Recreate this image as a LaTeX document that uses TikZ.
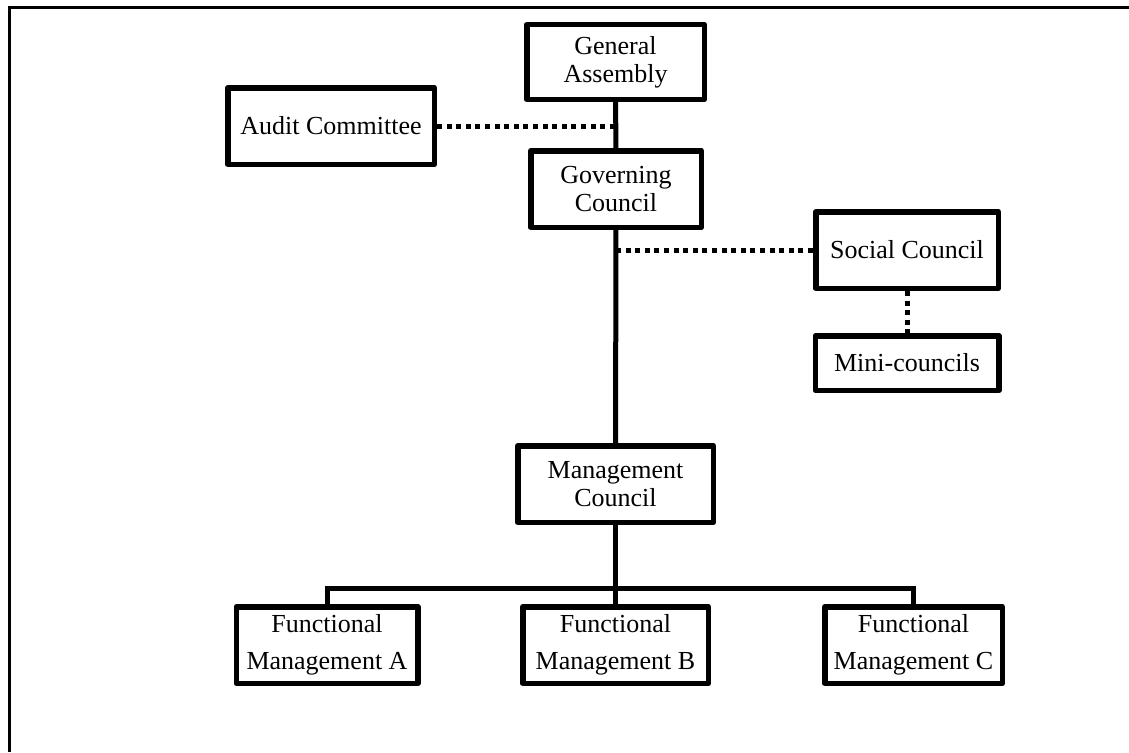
\documentclass[tikz,border=0pt]{standalone}
\usepackage{fontspec}
\setmainfont{Liberation Serif}
\usetikzlibrary{positioning, calc}
\tikzset{
  every picture/.style={font=\fontsize{26}{28}\selectfont, line width=4.5pt},
  box/.style={draw, fill=white, align=center, inner sep=4pt, line width=5.5pt, line join=round, minimum height=#1},
  box/.default=76.5pt,
  link/.style={draw, line width=5pt},
  dotlink/.style={draw, line width=5pt, dash pattern=on 5pt off 4.6pt},
  frame/.style={draw, line width=3pt},
}

\begin{document}
\begin{tikzpicture}[x=1pt, y=-1pt]
  \useasboundingbox (0,0) rectangle (1129,752);
  \draw[frame] (9.5,752) -- (9.5,8) -- (1129,8);
  % top of the chart
  \node[box=74.5pt, minimum width=177.5pt] (assembly) at (615.5,62) {General\\Assembly};
  \node[box, minimum width=170.5pt] (governing) at (616,189) {Governing\\Council};
  \node[box, minimum width=206.5pt] (audit) at (331,126) {Audit Committee};
  \draw[link] (assembly) -- (governing);
  \draw[dotlink] (audit.east) -- (audit.east -| assembly.south);
  % social side
  \node[box, minimum width=182.5pt] (social) at (907,250) {Social Council};
  \node[box=54.5pt, minimum width=183.5pt, below=42pt of social] (mini) {Mini-councils};
  \draw[dotlink] (social.west) -- (social.west -| governing.south);
  \draw[dotlink] (social) -- (mini);
  % management and its units
  \node[box, minimum width=195.5pt] (mgmt) at (615.5,484) {Management\\Council};
  \draw[link] (governing) -- (mgmt);
  \begin{scope}[every node/.append style={font=\fontsize{26}{37}\selectfont}]
    \node[box, minimum width=181.5pt] (funA) at (327,645) {Functional\\Management A};
    \node[box, minimum width=185.5pt] (funB) at (615.5,645) {Functional\\Management B};
    \node[box, minimum width=177.5pt] (funC) at (913.5,645) {Functional\\Management C};
  \end{scope}
  \coordinate (bus) at (615.5,588);
  \draw[link] (mgmt) -- (funB);
  \draw[link] (funA.north) |- (bus) -| (funC.north);
\end{tikzpicture}
\end{document}
